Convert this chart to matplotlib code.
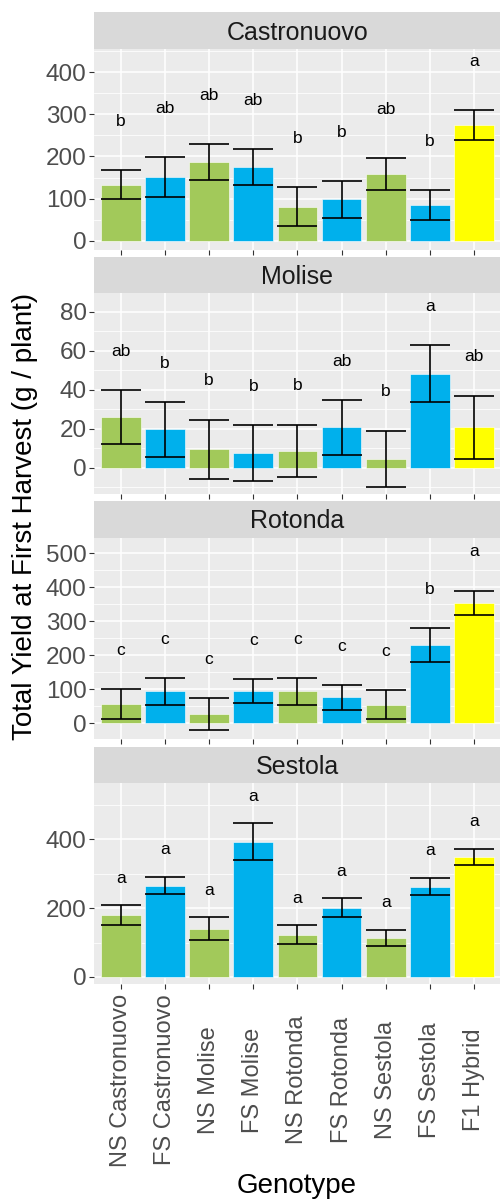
import numpy as np
import matplotlib
matplotlib.use("Agg")
import matplotlib.pyplot as plt
from matplotlib.ticker import MultipleLocator
from matplotlib.transforms import blended_transform_factory

plt.rcParams["font.family"] = ["Liberation Sans", "DejaVu Sans"]

genotypes = ["NS Castronuovo", "FS Castronuovo", "NS Molise", "FS Molise",
             "NS Rotonda", "FS Rotonda", "NS Sestola", "FS Sestola", "F1 Hybrid"]
seed_type = ["NS", "FS", "NS", "FS", "NS", "FS", "NS", "FS", "F1"]

locations = ["Castronuovo", "Molise", "Rotonda", "Sestola"]

castronuovo_mean = [133, 151, 187, 175, 81, 98, 158, 85, 275]
castronuovo_se = [34, 48, 43, 43, 46, 43, 38, 35, 36]
castronuovo_letters = ["b", "ab", "ab", "ab", "b", "b", "ab", "b", "a"]

molise_mean = [25.9, 19.6, 9.4, 7.4, 8.5, 20.6, 4.4, 48.3, 20.7]
molise_se = [13.7, 14.1, 15.2, 14.4, 13.5, 14.0, 14.5, 14.4, 16.1]
molise_letters = ["ab", "b", "b", "b", "b", "ab", "b", "a", "ab"]

rotonda_mean = [55.4, 93.5, 27.3, 93.5, 93.5, 75.5, 54.5, 230, 355]
rotonda_se = [44.6, 39, 46.8, 35, 39, 37.5, 42.9, 50.7, 35.2]
rotonda_letters = ["c", "c", "c", "c", "c", "c", "c", "b", "a"]

sestola_mean = [179.6, 265, 140.3, 393.7, 123.3, 201, 114.6, 263, 349]
sestola_se = [29.1, 25.2, 33.5, 52.9, 27.2, 27.2, 23.3, 25.2, 23.3]
sestola_letters = ["a", "a", "a", "a", "a", "a", "a", "a", "a"]

means = [castronuovo_mean, molise_mean, rotonda_mean, sestola_mean]
ses = [castronuovo_se, molise_se, rotonda_se, sestola_se]
letters = [castronuovo_letters, molise_letters, rotonda_letters, sestola_letters]

# gap between top of error bar and letter, per panel
letter_gap = [115, 20, 114, 79]
ylims = [(-22, 455), (-13.7, 89.5), (-46, 546), (-21.3, 563)]
major_step = [100, 20, 100, 200]

colors = {"NS": "#A2C95A", "FS": "#00B0EC", "F1": "#FFFF00"}

W, H = 500, 1201
fig = plt.figure(figsize=(W / 100, H / 100), dpi=100)

def box(x, y, w, h):
    return [x / W, 1 - (y + h) / H, w / W, h / H]

left, right = 94.3, 500.5
panel_tops = [49.0, 293.3, 537.7, 783.3]
panel_h = 201
strip_h = 36.6

x = np.arange(1, len(genotypes) + 1)
tick_color = "#4D4D4D"

for i, loc in enumerate(locations):
    top = panel_tops[i]
    sax = fig.add_axes(box(left, top - strip_h, right - left, strip_h))
    sax.set_facecolor("#D9D9D9")
    sax.set_xticks([])
    sax.set_yticks([])
    for s in sax.spines.values():
        s.set_visible(False)
    sax.text(0.5, 0.45, loc, ha="center", va="center", fontsize=18,
             color="#1A1A1A", transform=sax.transAxes)

    ax = fig.add_axes(box(left, top, right - left, panel_h))
    ax.set_facecolor("#EBEBEB")
    for s in ax.spines.values():
        s.set_visible(False)
    ax.set_xlim(0.4, 9.6)
    ax.set_ylim(*ylims[i])
    ax.yaxis.set_major_locator(MultipleLocator(major_step[i]))
    ax.yaxis.set_minor_locator(MultipleLocator(major_step[i] / 2))
    ax.set_xticks(x)
    ax.grid(which="major", color="white", linewidth=1.1)
    ax.grid(which="minor", axis="y", color="white", linewidth=0.55)
    ax.set_axisbelow(True)
    ax.tick_params(axis="both", which="major", length=3.5, width=0.8,
                   color="#333333", labelsize=17.5, labelcolor=tick_color, pad=2)
    ax.tick_params(axis="y", which="minor", length=0)
    ax.tick_params(axis="x", labelbottom=False)

    m = np.array(means[i])
    se = np.array(ses[i])
    bar_colors = [colors[t] for t in seed_type]
    ax.bar(x, m, width=0.9, color=bar_colors, edgecolor="white",
           linewidth=0.4, zorder=2)
    ax.errorbar(x, m, yerr=se, fmt="none", ecolor="black", elinewidth=1.2,
                capsize=14.4, capthick=1.2, zorder=3)
    for xi, yt, lab in zip(x, m + se + letter_gap[i], letters[i]):
        ax.text(xi, yt, lab, ha="center", va="center", fontsize=12.5,
                color="black", zorder=4)

    if i == len(locations) - 1:
        # rotated genotype names, centred under each tick like ggplot
        tr = blended_transform_factory(ax.transData, fig.transFigure)
        for xi, g in zip(x, genotypes):
            ax.text(xi, 1 - 1080 / H, g, rotation=90, ha="center", va="center",
                    fontsize=17, color=tick_color, transform=tr, clip_on=False)

fig.text(297 / W, 1 - 1186 / H, "Genotype", ha="center", va="center",
         fontsize=20, color="black")
fig.text(25 / W, 1 - 516 / H, "Total Yield at First Harvest (g / plant)",
         rotation=90, ha="center", va="center", fontsize=20, color="black")

fig.savefig("out.png", dpi=100)
plt.close(fig)
